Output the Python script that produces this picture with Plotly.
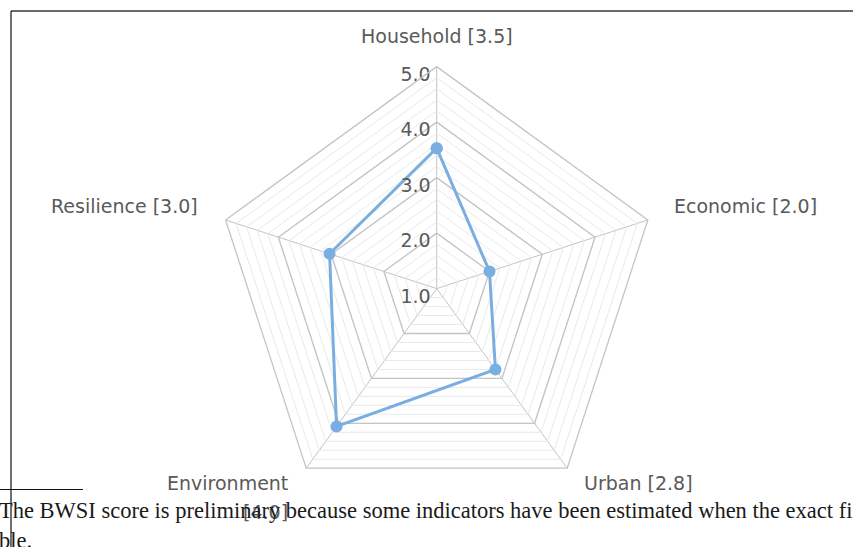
import plotly.graph_objects as go

# ---- data ----
categories = ["Household", "Economic", "Urban", "Environment", "Resilience"]
values = [3.53, 2.0, 2.8, 4.07, 3.03]
score_labels = ["3.5", "2.0", "2.8", "4.0", "3.0"]
radial_ticks = [1.0, 2.0, 3.0, 4.0, 5.0]
radial_tick_text = ["1.0", "2.0", "3.0", "4.0", "5.0"]
footnote_lines = [
    "The BWSI score is preliminary because some indicators have been estimated when the exact figures were not available",
    "ble.",
]

W, H = 853, 547
LABEL_COLOR = "#5a5a5a"
MAJOR = "#c4c4c4"
MINOR = "#e9e9e9"
LINE = "#7aaee0"
FONT = "DejaVu Sans"

fig = go.Figure()

closed_theta = categories + [categories[0]]
# major pentagon rings
for t in radial_ticks[1:-1]:
    fig.add_trace(go.Scatterpolar(
        r=[t] * len(closed_theta), theta=closed_theta, mode="lines",
        line=dict(color=MAJOR, width=1.3), hoverinfo="skip", showlegend=False))

# data series
fig.add_trace(go.Scatterpolar(
    r=values + [values[0]], theta=closed_theta, mode="lines+markers",
    line=dict(color=LINE, width=3), marker=dict(size=12, color=LINE),
    hoverinfo="skip", showlegend=False))

# radial tick labels
fig.add_trace(go.Scatterpolar(
    r=radial_ticks, theta=[categories[0]] * len(radial_ticks), mode="text",
    text=[t + "\u00a0" for t in radial_tick_text], textposition="bottom left",
    textfont=dict(family=FONT, size=19, color=LABEL_COLOR),
    cliponaxis=False, hoverinfo="skip", showlegend=False))

fig.update_layout(
    width=W, height=H,
    margin=dict(l=0, r=0, t=0, b=0),
    paper_bgcolor="white", plot_bgcolor="white",
    showlegend=False,
    polar=dict(
        domain=dict(x=[214.7 / W, 658.7 / W], y=[1 - 510.6 / H, 1 - 66.6 / H]),
        bgcolor="white",
        gridshape="linear",
        radialaxis=dict(range=[0.9999, 5], angle=90, tick0=1, dtick=0.2,
                        showticklabels=False, ticks="", showline=False,
                        gridcolor=MINOR, gridwidth=1),
        angularaxis=dict(rotation=90, direction="clockwise",
                         categoryorder="array", categoryarray=categories,
                         showticklabels=False, ticks="",
                         showline=True, linecolor=MAJOR, linewidth=1.3,
                         gridcolor=MAJOR, gridwidth=1.3),
    ),
)

# category labels (pixel positions of label centers / anchors)
label_pos = {
    "Household": (437, 36, "center"),
    "Economic": (745.5, 206, "center"),
    "Urban": (638, 483, "center"),
    "Environment": (290, 483, "right"),
    "Resilience": (124, 206, "center"),
}
for cat, sc in zip(categories, score_labels):
    x, y, anchor = label_pos[cat]
    if cat == "Environment":
        lines = [cat, f"[{sc}]"]
    else:
        lines = [f"{cat} [{sc}]"]
    for i, ln in enumerate(lines):
        fig.add_annotation(
            x=x / W, y=1 - (y + 29 * i) / H, xref="paper", yref="paper",
            text=ln, showarrow=False, xanchor=anchor, yanchor="middle",
            font=dict(family=FONT, size=19, color=LABEL_COLOR))

# footnote text (document excerpt)
for i, ln in enumerate(footnote_lines):
    fig.add_annotation(
        x=-3 / W, y=1 - (510 + 30 * i) / H, xref="paper", yref="paper",
        text=ln, showarrow=False, xanchor="left", yanchor="middle",
        font=dict(family="Liberation Serif", size=22.5, color="#1a1a1a"))

# page frame lines
fig.add_shape(type="line", xref="paper", yref="paper",
              x0=11 / W, x1=1, y0=1 - 11 / H, y1=1 - 11 / H,
              line=dict(color="#6a6a6a", width=2))
fig.add_shape(type="line", xref="paper", yref="paper",
              x0=11 / W, x1=11 / W, y0=1 - 11 / H, y1=0,
              line=dict(color="#111111", width=1.2))
fig.add_shape(type="line", xref="paper", yref="paper",
              x0=0, x1=83 / W, y0=1 - 489.5 / H, y1=1 - 489.5 / H,
              line=dict(color="#111111", width=1))

fig.write_html(
    "out.html",
    config={"displayModeBar": False},
    post_script="document.body.style.margin='0';document.body.style.overflow='hidden';",
)
